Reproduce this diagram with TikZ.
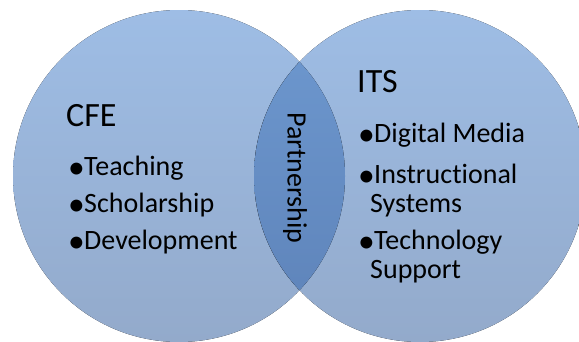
\documentclass[tikz,border=0pt]{standalone}
\usepackage{fontspec}
\setmainfont{Carlito}[Ligatures={NoCommon,NoRare,NoDiscretionary}]
\definecolor{circtop}{RGB}{158,189,229}
\definecolor{circbot}{RGB}{147,170,203}
\definecolor{lenstop}{RGB}{110,153,208}
\definecolor{lensbot}{RGB}{93,130,184}
\tikzset{
  circfill/.style={top color=circtop, bottom color=circbot, draw=none},
  lensfill/.style={top color=lenstop, bottom color=lensbot, draw=none},
  head/.style={anchor=base west, inner sep=0pt, font=\fontsize{34}{36}\selectfont},
  item/.style={anchor=base west, inner sep=0pt, font=\fontsize{28}{29}\selectfont},
  item2/.style={anchor=base west, inner sep=0pt, align=left, font=\fontsize{28}{29}\selectfont},
}
\newcommand{\bulitem}[1]{\makebox[16pt][l]{\raisebox{-3pt}{\scalebox{1.2}{•}}}#1}
\begin{document}
\begin{tikzpicture}[x=1pt,y=-1pt]
\clip (0,0) rectangle (579,341);
\fill[white] (0,0) rectangle (579,341);
\coordinate (cl) at (179,176);
\coordinate (cr) at (420,176);
\fill[circfill] (cl) circle[radius=166pt];
\fill[circfill] (cr) circle[radius=166pt];
\begin{scope}
  \clip (cl) circle[radius=166pt];
  \fill[lensfill] (cr) circle[radius=166pt];
\end{scope}
% left circle text
\node[head] (cfe) at (66,126) {CFE};
\node[item] (teach) at (68,175) {\bulitem{Teaching}};
\node[item] (schol) at (68,212) {\bulitem{Scholarship}};
\node[item] (dev) at (68,249) {\bulitem{Development}};
% right circle text
\node[head] (its) at (357,92) {ITS};
\node[item] (dm) at (358,142) {\bulitem{Digital Media}};
\node[item2] (is) at (358,212) {\bulitem{Instructional}\\\hspace*{12pt}Systems};
\node[item2] (ts) at (358,278) {\bulitem{Technology}\\\hspace*{12pt}Support};
% overlap
\node[inner sep=0pt, rotate=-90, font=\fontsize{28}{29}\selectfont] (part) at (295,178) {Partnership};
\end{tikzpicture}
\end{document}
